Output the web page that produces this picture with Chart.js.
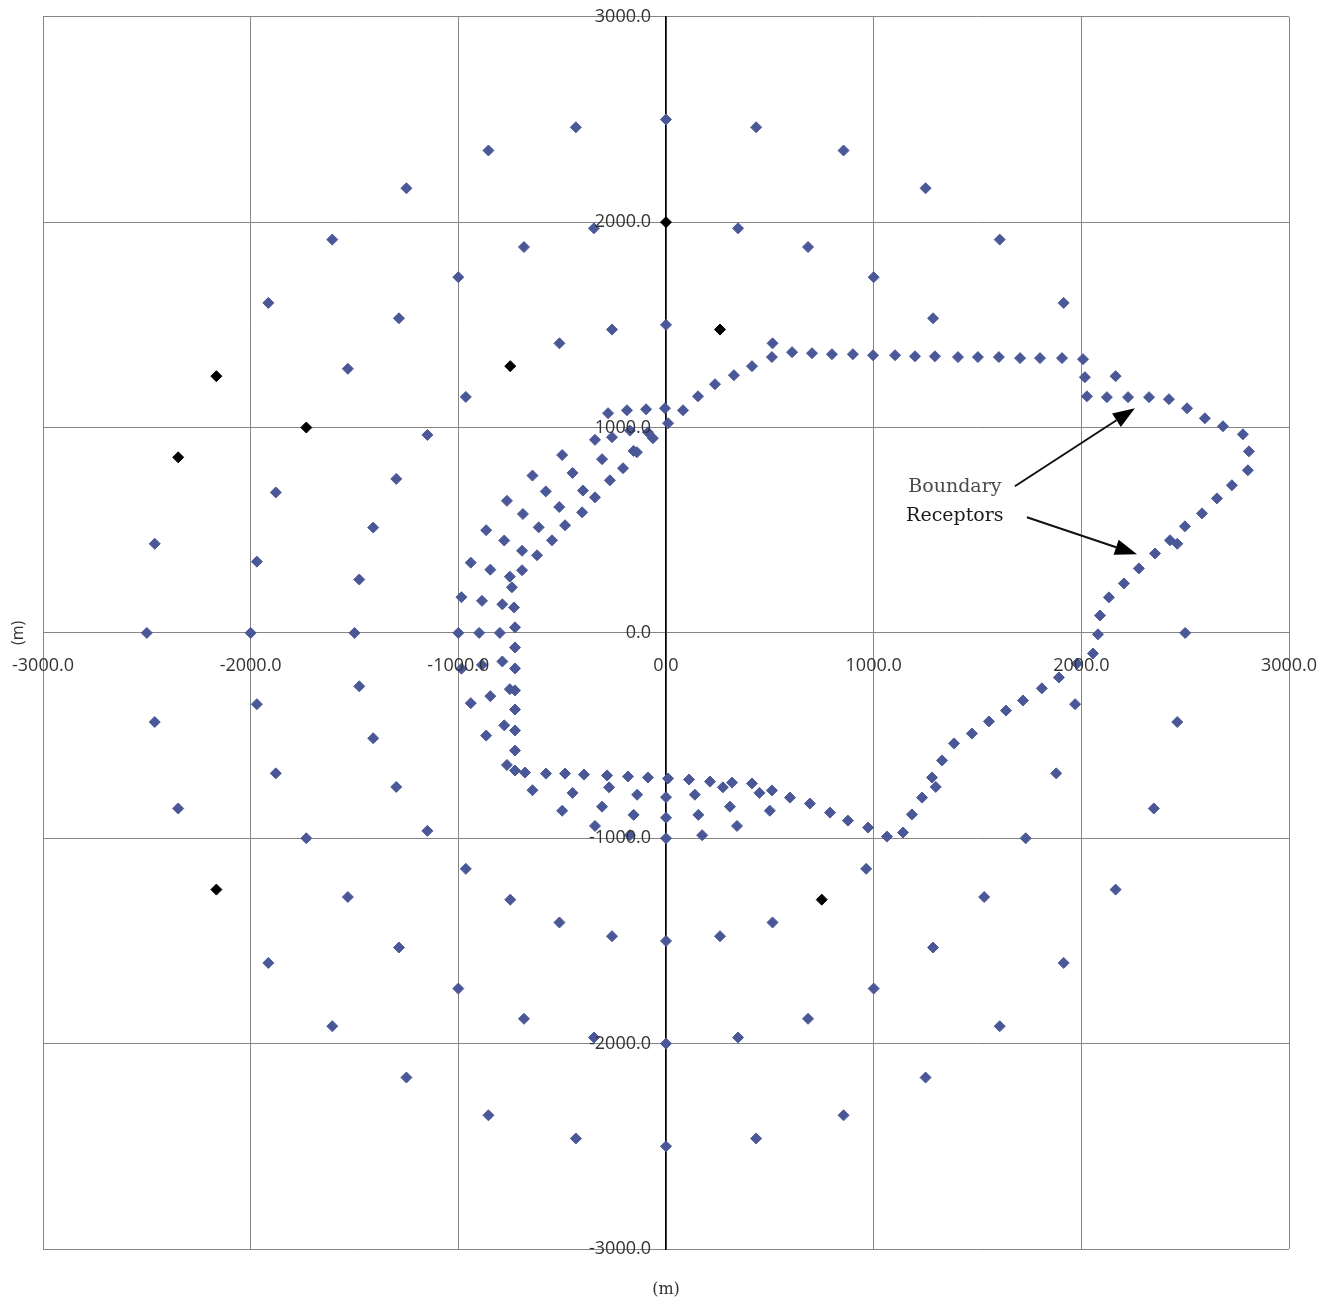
<!DOCTYPE html>
<html>
<head>
<meta charset="utf-8">
<script src="https://cdn.jsdelivr.net/npm/chart.js@4.4.1/dist/chart.umd.min.js"></script>
<style>
  body { margin: 0; background: #fff; }
  #wrap { width: 1329px; height: 1304px; position: relative; }
</style>
</head>
<body>
<div id="wrap"><canvas id="receptorChart"></canvas></div>
<script>
  var blue = '#4B5898';

  // receptor rings (m)
  var ringX = [
    0, 434, 855, 1250, 1607, 1915, 2165, 2462, 2500, 2462, 2349, 2165, 1915, 1607, 1250, 855, 434, 0, -434, -855, -1250, -1607, -1915, -2349, -2462, -2500, -2462, -1915, -1607, -1250, -855, -434,
    347, 684, 1000, 1286, 1970, 1879, 1732, 1532, 1286, 1000, 684, 347, 0, -347, -684, -1000, -1286, -1532, -1732, -1879, -1970, -2000, -1970, -1879, -1532, -1286, -1000, -684, -347,
    0, 513, 1299, 964, 513, 260, 0, -260, -513, -750, -964, -1149, -1299, -1410, -1477, -1500, -1477, -1410, -1299, -1149, -964, -513, -260,
    500, 342, 174, 0, -174, -342, -500, -643, -766, -866, -940, -985, -1000, -985, -940, -866, -766, -643, -500, -342, -174,
    450, 308, 156, 0, -156, -308, -450, -779, -846, -886, -900, -886, -846, -779, -689, -579, -450, -308, -156,
    274, 139, 0, -139, -274, -752, -788, -800, -788, -752, -693, -613, -514, -400
  ];
  var ringY = [
    2500, 2462, 2349, 2165, 1915, 1607, 1250, 434, 0, -434, -855, -1250, -1607, -1915, -2165, -2349, -2462, -2500, -2462, -2349, -2165, -1915, -1607, -855, -434, 0, 434, 1607, 1915, 2165, 2349, 2462,
    1970, 1879, 1732, 1532, -347, -684, -1000, -1286, -1532, -1732, -1879, -1970, -2000, -1970, -1879, -1732, -1532, -1286, -1000, -684, -347, 0, 347, 684, 1286, 1532, 1732, 1879, 1970,
    1500, 1410, -750, -1149, -1410, -1477, -1500, -1477, -1410, -1299, -1149, -964, -750, -513, -260, 0, 260, 513, 750, 964, 1149, 1410, 1477,
    -866, -940, -985, -1000, -985, -940, -866, -766, -643, -500, -342, -174, 0, 174, 342, 500, 643, 766, 866, 940, 985,
    -779, -846, -886, -900, -886, -846, -779, -450, -308, -156, 0, 156, 308, 450, 579, 689, 779, 846, 886,
    -752, -788, -800, -788, -752, -274, -139, 0, 139, 274, 400, 514, 613, 693
  ];

  // boundary receptors (m)
  var boundaryX = [
    -727, -727, -727, -727, -727, -727, -727, -727, -679, -578, -486, -395, -284, -183, -87, 10, 111, 212, 318, 414,
    510, 597, 693, 790, 876, 973, 1064, 1141, 1184, 1233, 1281, 1329, 1387, 1473, 1555, 1637, 1719, 1810, 1892, 1979, 2056,
    2080, 2090, 2133, 2205, 2277, 2355, 2427, 2499, 2581, 2653, 2725, 2802, 2807, 2778, 2682, 2595, 2509, 2422, 2326, 2225, 2123, 2027, 2017, 2008,
    1907, 1801, 1705, 1603, 1502, 1406, 1295, 1199, 1103, 997, 900, 799, 703, 607, 510, 414, 327, 236, 154, 82, -5, -96, -188, -279,
    -260, -87, 10, -63, -140, -207, -270, -342, -404, -486, -549, -621, -693, -742, -732
  ];
  var boundaryY = [
    27, -71, -173, -280, -373, -475, -573, -670, -680, -685, -685, -690, -694, -699, -704, -709, -714, -724, -729, -733,
    -767, -802, -831, -875, -914, -948, -992, -972, -884, -802, -704, -621, -538, -490, -431, -378, -329, -270, -217, -149, -100,
    -7, 85, 173, 241, 314, 387, 451, 519, 582, 655, 719, 792, 884, 967, 1006, 1045, 1094, 1138, 1148, 1148, 1148, 1152, 1245, 1333,
    1338, 1338, 1338, 1343, 1343, 1343, 1347, 1347, 1352, 1352, 1357, 1357, 1362, 1367, 1343, 1299, 1255, 1211, 1152, 1084, 1094, 1089, 1084, 1070,
    953, 977, 1021, 948, 880, 802, 743, 660, 587, 524, 451, 378, 305, 222, 124
  ];

  // highlighted receptors (m)
  var blackX = [0, -1732, -2349, -2165, -750, 260, -2165, 750];
  var blackY = [2000, 1000, 855, 1250, 1299, 1477, -1250, -1299];

  var axisTicks = [-3000, -2000, -1000, 0, 1000, 2000, 3000];

  function toPoints(xs, ys) {
    var n = Math.min(xs.length, ys.length);
    var pts = [];
    for (var i = 0; i < n; i++) pts.push({ x: xs[i], y: ys[i] });
    return pts;
  }

  // tick labels, text, arrows and axis titles
  var extras = {
    id: 'extras',
    afterDraw: function (chart) {
      var ctx = chart.ctx, sx = chart.scales.x, sy = chart.scales.y;
      var x0 = sx.getPixelForValue(0), y0 = sy.getPixelForValue(0);
      ctx.save();

      // tick labels placed off the crossing axes, like the original
      ctx.font = '18px "Open Sans"';
      ctx.fillStyle = '#333';
      ctx.textBaseline = 'middle';
      ctx.textAlign = 'center';
      sx.ticks.forEach(function (t) {
        ctx.fillText(t.value.toFixed(1), sx.getPixelForValue(t.value), y0 + 33);
      });
      ctx.textAlign = 'right';
      sy.ticks.forEach(function (t) {
        ctx.fillText(t.value.toFixed(1), x0 - 15, sy.getPixelForValue(t.value));
      });

      function arrow(x1, y1, x2, y2) {
        var a = sx.getPixelForValue(x1), b = sy.getPixelForValue(y1);
        var c = sx.getPixelForValue(x2), d = sy.getPixelForValue(y2);
        var ang = Math.atan2(d - b, c - a), len = 22, half = 8;
        ctx.strokeStyle = '#111';
        ctx.fillStyle = '#000';
        ctx.lineWidth = 2;
        ctx.beginPath();
        ctx.moveTo(a, b);
        ctx.lineTo(c - Math.cos(ang) * len, d - Math.sin(ang) * len);
        ctx.stroke();
        ctx.beginPath();
        ctx.moveTo(c, d);
        ctx.lineTo(c - Math.cos(ang) * len - Math.sin(ang) * half, d - Math.sin(ang) * len + Math.cos(ang) * half);
        ctx.lineTo(c - Math.cos(ang) * len + Math.sin(ang) * half, d - Math.sin(ang) * len - Math.cos(ang) * half);
        ctx.closePath();
        ctx.fill();
      }
      arrow(1680, 714, 2258, 1094);
      arrow(1738, 563, 2268, 383);

      ctx.font = '19px "DejaVu Serif"';
      ctx.textAlign = 'center';
      ctx.fillStyle = '#4a4a4a';
      ctx.fillText('Boundary', sx.getPixelForValue(1391), sy.getPixelForValue(712));
      ctx.fillStyle = '#1a1a1a';
      ctx.fillText('Receptors', sx.getPixelForValue(1391), sy.getPixelForValue(567));

      // axis titles
      ctx.fillStyle = '#333';
      ctx.font = '16px "DejaVu Serif"';
      ctx.fillText('(m)', (chart.chartArea.left + chart.chartArea.right) / 2, 1290);
      ctx.translate(18, y0);
      ctx.rotate(-Math.PI / 2);
      ctx.font = '16px "Open Sans"';
      ctx.fillText('(m)', 0, 0);
      ctx.restore();
    }
  };

  var chartEl = document.getElementById('receptorChart');

  new Chart(chartEl, {
    type: 'scatter',
    data: {
      datasets: [{
        label: 'Receptors',
        data: toPoints(ringX, ringY),
        pointStyle: 'rectRot',
        pointRadius: 5.5,
        pointBorderWidth: 1,
        borderColor: blue,
        backgroundColor: blue
      }, {
        label: 'Boundary Receptors',
        data: toPoints(boundaryX, boundaryY),
        pointStyle: 'rectRot',
        pointRadius: 5.5,
        pointBorderWidth: 1,
        borderColor: blue,
        backgroundColor: blue
      }, {
        label: 'Other',
        data: toPoints(blackX, blackY),
        pointStyle: 'rectRot',
        pointRadius: 5.5,
        pointBorderWidth: 1,
        borderColor: '#000',
        backgroundColor: '#000'
      }]
    },
    options: {
      responsive: true,
      maintainAspectRatio: false,
      animation: false,
      layout: { padding: { left: 43, right: 40, top: 16, bottom: 55 } },
      plugins: { legend: { display: false }, tooltip: { enabled: false } },
      scales: {
        x: {
          type: 'linear',
          min: -3000, max: 3000,
          position: { y: 0 },
          afterBuildTicks: function (s) { s.ticks = axisTicks.map(function (v) { return { value: v }; }); },
          ticks: {
            autoSkip: false, maxRotation: 0, padding: 10,
            color: 'rgba(0,0,0,0)', font: { family: 'Open Sans', size: 18 },
            callback: function (v) { return Number(v).toFixed(1); }
          },
          grid: { color: '#858585', lineWidth: 1, tickLength: 8 },
          border: { color: '#858585', width: 1 }
        },
        y: {
          type: 'linear',
          min: -3000, max: 3000,
          position: { x: 0 },
          afterBuildTicks: function (s) { s.ticks = axisTicks.map(function (v) { return { value: v }; }); },
          ticks: {
            autoSkip: false, padding: 6,
            color: 'rgba(0,0,0,0)', font: { family: 'Open Sans', size: 18 },
            callback: function (v) { return Number(v).toFixed(1); }
          },
          grid: { color: '#858585', lineWidth: 1, tickLength: 14 },
          border: { color: '#000', width: 1.5 }
        }
      }
    },
    plugins: [extras]
  });
</script>
</body>
</html>
